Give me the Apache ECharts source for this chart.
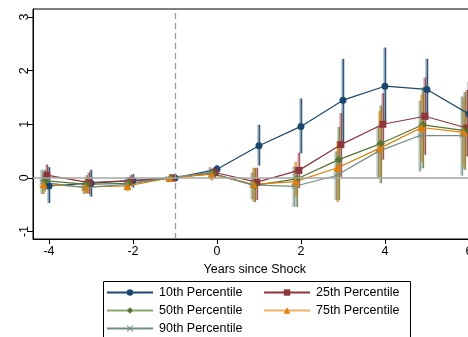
<!DOCTYPE html>
<html>
<head>
<meta charset="utf-8">
<script src="https://cdn.jsdelivr.net/npm/echarts@6/dist/echarts.min.js"></script>
<style>
  html, body { margin: 0; padding: 0; background: #fff; }
  #chart { width: 468px; height: 337px; }
</style>
</head>
<body>
<div id="chart"></div>
<script>
// Event-study estimates by percentile, with confidence bands
const years = [-4, -3, -2, -1, 0, 1, 2, 3, 4, 5, 6];
const seriesNames = ['10th Percentile', '25th Percentile', '50th Percentile', '75th Percentile', '90th Percentile'];

const p10   = [-0.15, -0.10, -0.05, 0, 0.16, 0.60, 0.96, 1.45, 1.71, 1.65, 1.19];
const p10Lo = [-0.47, -0.35, -0.18, 0, 0.06, 0.23, 0.46, 0.68, 1.03, 1.08, 0.60];
const p10Hi = [ 0.20,  0.15,  0.07, 0, 0.24, 0.99, 1.48, 2.22, 2.43, 2.22, 1.80];

const p25   = [ 0.05, -0.09, -0.05, 0, 0.10, -0.08,  0.14, 0.62, 1.00, 1.15, 0.93];
const p25Lo = [-0.20, -0.30, -0.15, 0, 0.00, -0.41, -0.19, 0.02, 0.34, 0.43, 0.40];
const p25Hi = [ 0.25,  0.10,  0.05, 0, 0.20,  0.19,  0.47, 1.21, 1.58, 1.87, 1.64];

const p50   = [-0.05, -0.12, -0.10, 0,  0.08, -0.14, -0.02,  0.34,  0.64, 0.99, 0.88];
const p50Lo = [-0.25, -0.28, -0.20, 0, -0.02, -0.45, -0.54, -0.41, -0.10, 0.18, 0.15];
const p50Hi = [ 0.15,  0.05,  0.00, 0,  0.18,  0.18,  0.18,  0.95,  1.35, 1.69, 1.60];

const p75   = [-0.12, -0.17, -0.15, 0,  0.07, -0.12, -0.07,  0.19, 0.55, 0.94, 0.85];
const p75Lo = [-0.30, -0.30, -0.25, 0, -0.05, -0.44, -0.35, -0.45, 0.02, 0.30, 0.20];
const p75Hi = [ 0.05, -0.02, -0.05, 0,  0.17,  0.19,  0.30,  0.68, 1.25, 1.55, 1.50];

const p90   = [-0.08, -0.18, -0.12, 0, 0.10, -0.13, -0.16,  0.04,  0.49, 0.79, 0.79];
const p90Lo = [-0.30, -0.30, -0.22, 0, 0.00, -0.40, -0.54, -0.41,  0.00, 0.12, 0.04];
const p90Hi = [ 0.15, -0.05,  0.00, 0, 0.20,  0.10,  0.21,  0.49,  0.96, 1.44, 1.52];

const xTicks = [-4, -2, 0, 2, 4, 6];
const yTicks = [-1, 0, 1, 2, 3];

// styling
const colors = ['#1a476f', '#90353b', '#55752f', '#e37e00', '#6e8e84'];
const bandColors = ['rgba(26,71,111,0.5)', 'rgba(144,53,59,0.42)', 'rgba(85,117,47,0.42)', 'rgba(227,126,0,0.42)', 'rgba(110,142,132,0.45)'];
const legendLineColors = ['#1a476f', '#90353b', '#8aa86a', '#f0b060', '#6e8e84'];
const symbols = ['circle', 'rect', 'diamond', 'triangle',
  'path://M0,1L1,0L5,4L9,0L10,1L6,5L10,9L9,10L5,6L1,10L0,9L4,5Z'];
const symbolSizes = [7, 7, 8, 8, 5];
const dodge = [0, -0.05, -0.10, -0.13, -0.17];

const est = [p10, p25, p50, p75, p90];
const lo = [p10Lo, p25Lo, p50Lo, p75Lo, p90Lo];
const hi = [p10Hi, p25Hi, p50Hi, p75Hi, p90Hi];

const FONT = 'Liberation Sans, Arial, sans-serif';
const xMin = -4.38, xMax = 6.18, pxPerYear = 42;

const series = [];

// reference lines: zero effect and the year before the shock
series.push({
  type: 'line', data: [], silent: true, z: 1,
  markLine: {
    silent: true, symbol: 'none', label: { show: false },
    data: [
      { yAxis: 0, lineStyle: { color: '#a6a6a6', width: 1.5, type: 'solid' } },
      { xAxis: -1, lineStyle: { color: '#999999', width: 1.3, type: [6, 4] } }
    ]
  }
});

seriesNames.forEach((name, i) => {
  // confidence interval bars
  series.push({
    type: 'custom',
    name: name + ' CI',
    z: 2,
    silent: true,
    data: years.map((y, k) => [y + dodge[i], lo[i][k], hi[i][k]]),
    encode: { x: 0, y: [1, 2] },
    renderItem: function (params, api) {
      const x = api.value(0);
      const top = api.coord([x, api.value(2)]);
      const bot = api.coord([x, api.value(1)]);
      return {
        type: 'group',
        children: [
          { type: 'rect',
            shape: { x: top[0] - 1.5, y: top[1], width: 3, height: bot[1] - top[1] },
            style: { fill: bandColors[i] } },
          { type: 'line',
            shape: { x1: top[0] + 0.5, y1: top[1], x2: bot[0] + 0.5, y2: bot[1] },
            style: { stroke: colors[i], lineWidth: 1, opacity: 0.85 } }
        ]
      };
    }
  });
  // point estimates
  series.push({
    type: 'line',
    name: name,
    z: 3,
    data: years.map((y, k) => [y + dodge[i], est[i][k]]),
    symbol: symbols[i],
    symbolSize: symbolSizes[i],
    showAllSymbol: true,
    lineStyle: { color: colors[i], width: 1.2 },
    itemStyle: { color: colors[i] },
    animation: false
  });
});

function legendItem(i) {
  return {
    name: seriesNames[i],
    lineStyle: { color: legendLineColors[i], width: 2 },
    itemStyle: { color: colors[i] }
  };
}

const option = {
  animation: false,
  backgroundColor: '#ffffff',
  textStyle: { fontFamily: FONT },
  grid: {
    left: 33, top: 9, bottom: 98,
    width: (xMax - xMin) * pxPerYear,
    show: true, borderColor: '#000', borderWidth: 1, backgroundColor: 'transparent',
    containLabel: false,
    outerBoundsMode: 'none'
  },
  xAxis: {
    type: 'value', min: xMin, max: xMax,
    name: 'Years since Shock', nameLocation: 'middle', nameGap: 20,
    nameTextStyle: { fontFamily: FONT, fontSize: 12.5, color: '#000' },
    axisLine: { show: true, onZero: false, lineStyle: { color: '#000', width: 1 } },
    axisTick: { show: true, length: 5, lineStyle: { color: '#000' }, customValues: xTicks },
    axisLabel: { fontFamily: FONT, fontSize: 12.5, color: '#000', margin: 6, customValues: xTicks },
    splitLine: { show: false }
  },
  yAxis: {
    type: 'value', min: -1.14, max: 3.15,
    axisLine: { show: true, onZero: false, lineStyle: { color: '#000', width: 1 } },
    axisTick: { show: true, length: 5, lineStyle: { color: '#000' }, customValues: yTicks },
    axisLabel: { fontFamily: FONT, fontSize: 12.5, color: '#000', margin: 2, rotate: 90, customValues: yTicks },
    splitLine: { show: false }
  },
  legend: [
    {
      orient: 'vertical', left: 106, top: 286, padding: 0,
      itemWidth: 46, itemHeight: 8, itemGap: 5,
      textStyle: { fontFamily: FONT, fontSize: 12.5, color: '#000', padding: [0, 0, 0, 1] },
      data: [legendItem(0), legendItem(2), legendItem(4)],
      selectedMode: false
    },
    {
      orient: 'vertical', left: 263, top: 286, padding: 0,
      itemWidth: 46, itemHeight: 8, itemGap: 5,
      textStyle: { fontFamily: FONT, fontSize: 12.5, color: '#000', padding: [0, 0, 0, 1] },
      data: [legendItem(1), legendItem(3)],
      selectedMode: false
    }
  ],
  graphic: [
    { type: 'rect', left: 101, top: 279, silent: true,
      shape: { width: 307, height: 80 },
      style: { fill: 'none', stroke: '#000', lineWidth: 1 } }
  ],
  series: series
};

const chart = echarts.init(document.getElementById('chart'), null, { renderer: 'canvas' });
chart.setOption(option);
</script>
</body>
</html>
